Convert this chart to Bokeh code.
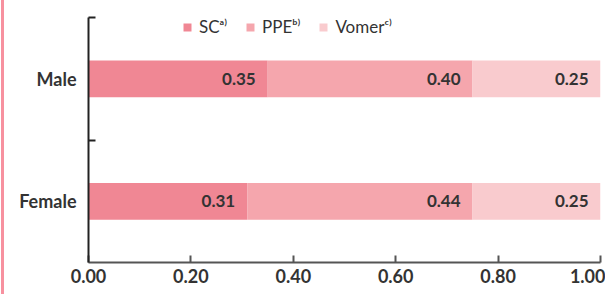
from bokeh.plotting import figure
from bokeh.models import ColumnDataSource, FixedTicker, Range1d, Legend, LegendItem, NumeralTickFormatter
from bokeh.core.properties import value
from bokeh.embed import file_html
from bokeh.resources import INLINE

groups = ["Female", "Male"]
sc = [0.31, 0.35]
ppe = [0.44, 0.40]
vomer = [0.25, 0.25]
series = ["sc", "ppe", "vomer"]
legend_labels = ["SC\u1d43\u207e", "PPE\u1d47\u207e", "Vomer\u1d9c\u207e"]
colors = ["#f08794", "#f5a6ad", "#f9cbce"]
x_ticks = [0, 0.2, 0.4, 0.6, 0.8, 1.0]

FONT = "Lato"
TXT = "#333333"

ypos = [i + 0.5 for i in range(len(groups))]
data = dict(y=ypos, sc=sc, ppe=ppe, vomer=vomer)
src = ColumnDataSource(data)

p = figure(width=604, height=294, output_backend="svg", toolbar_location=None,
           x_range=Range1d(0, 1), y_range=Range1d(0, len(groups)),
           min_border_left=84, min_border_right=8, min_border_top=17, min_border_bottom=32)
p.styles = {"border-left": "3px solid #f7919f", "margin-left": "1px"}

renderers = p.hbar_stack(series, y="y", height=0.3, color=colors, source=src, line_width=0)

# value labels
starts = [0.0] * len(groups)
for s in series:
    vals = data[s]
    ends = [a + b for a, b in zip(starts, vals)]
    lsrc = ColumnDataSource(dict(x=ends, y=ypos, t=["%.2f" % v for v in vals]))
    p.text(x="x", y="y", text="t", source=lsrc, x_offset=-12, text_align="right",
           text_baseline="middle", text_font=value(FONT), text_font_size="17px",
           text_font_style="bold", text_color=TXT)
    starts = ends

legend = Legend(items=[LegendItem(label=l, renderers=[r]) for l, r in zip(legend_labels, renderers)],
                orientation="horizontal", location=(94, 225), padding=0, spacing=18,
                glyph_width=10, glyph_height=10, label_standoff=7,
                label_text_font=FONT, label_text_font_size="17px", label_text_color=TXT,
                border_line_color=None, background_fill_color=None, margin=0)
p.add_layout(legend)

p.grid.visible = False
p.outline_line_color = None

xa = p.xaxis[0]
xa.ticker = FixedTicker(ticks=x_ticks)
xa.formatter = NumeralTickFormatter(format="0.00")
xa.major_tick_in = 7
xa.major_tick_out = 0
xa.minor_tick_line_color = None
xa.axis_line_color = "#555555"
xa.axis_line_width = 2
xa.major_tick_line_color = "#555555"
xa.major_tick_line_width = 2
xa.major_label_standoff = 6
xa.major_label_text_font = FONT
xa.major_label_text_font_size = "18px"
xa.major_label_text_font_style = "bold"
xa.major_label_text_color = TXT

ya = p.yaxis[0]
ya.ticker = FixedTicker(ticks=ypos, minor_ticks=[1, 2])
ya.major_label_overrides = {y: g for y, g in zip(ypos, groups)}
ya.major_tick_in = 0
ya.major_tick_out = 0
ya.minor_tick_in = 7
ya.minor_tick_out = 0
ya.minor_tick_line_color = "#222222"
ya.minor_tick_line_width = 2
ya.axis_line_color = "#222222"
ya.axis_line_width = 2
ya.major_label_standoff = 12
ya.major_label_text_font = FONT
ya.major_label_text_font_size = "18px"
ya.major_label_text_font_style = "bold"
ya.major_label_text_color = TXT

open("out.html", "w").write(file_html(p, INLINE))
